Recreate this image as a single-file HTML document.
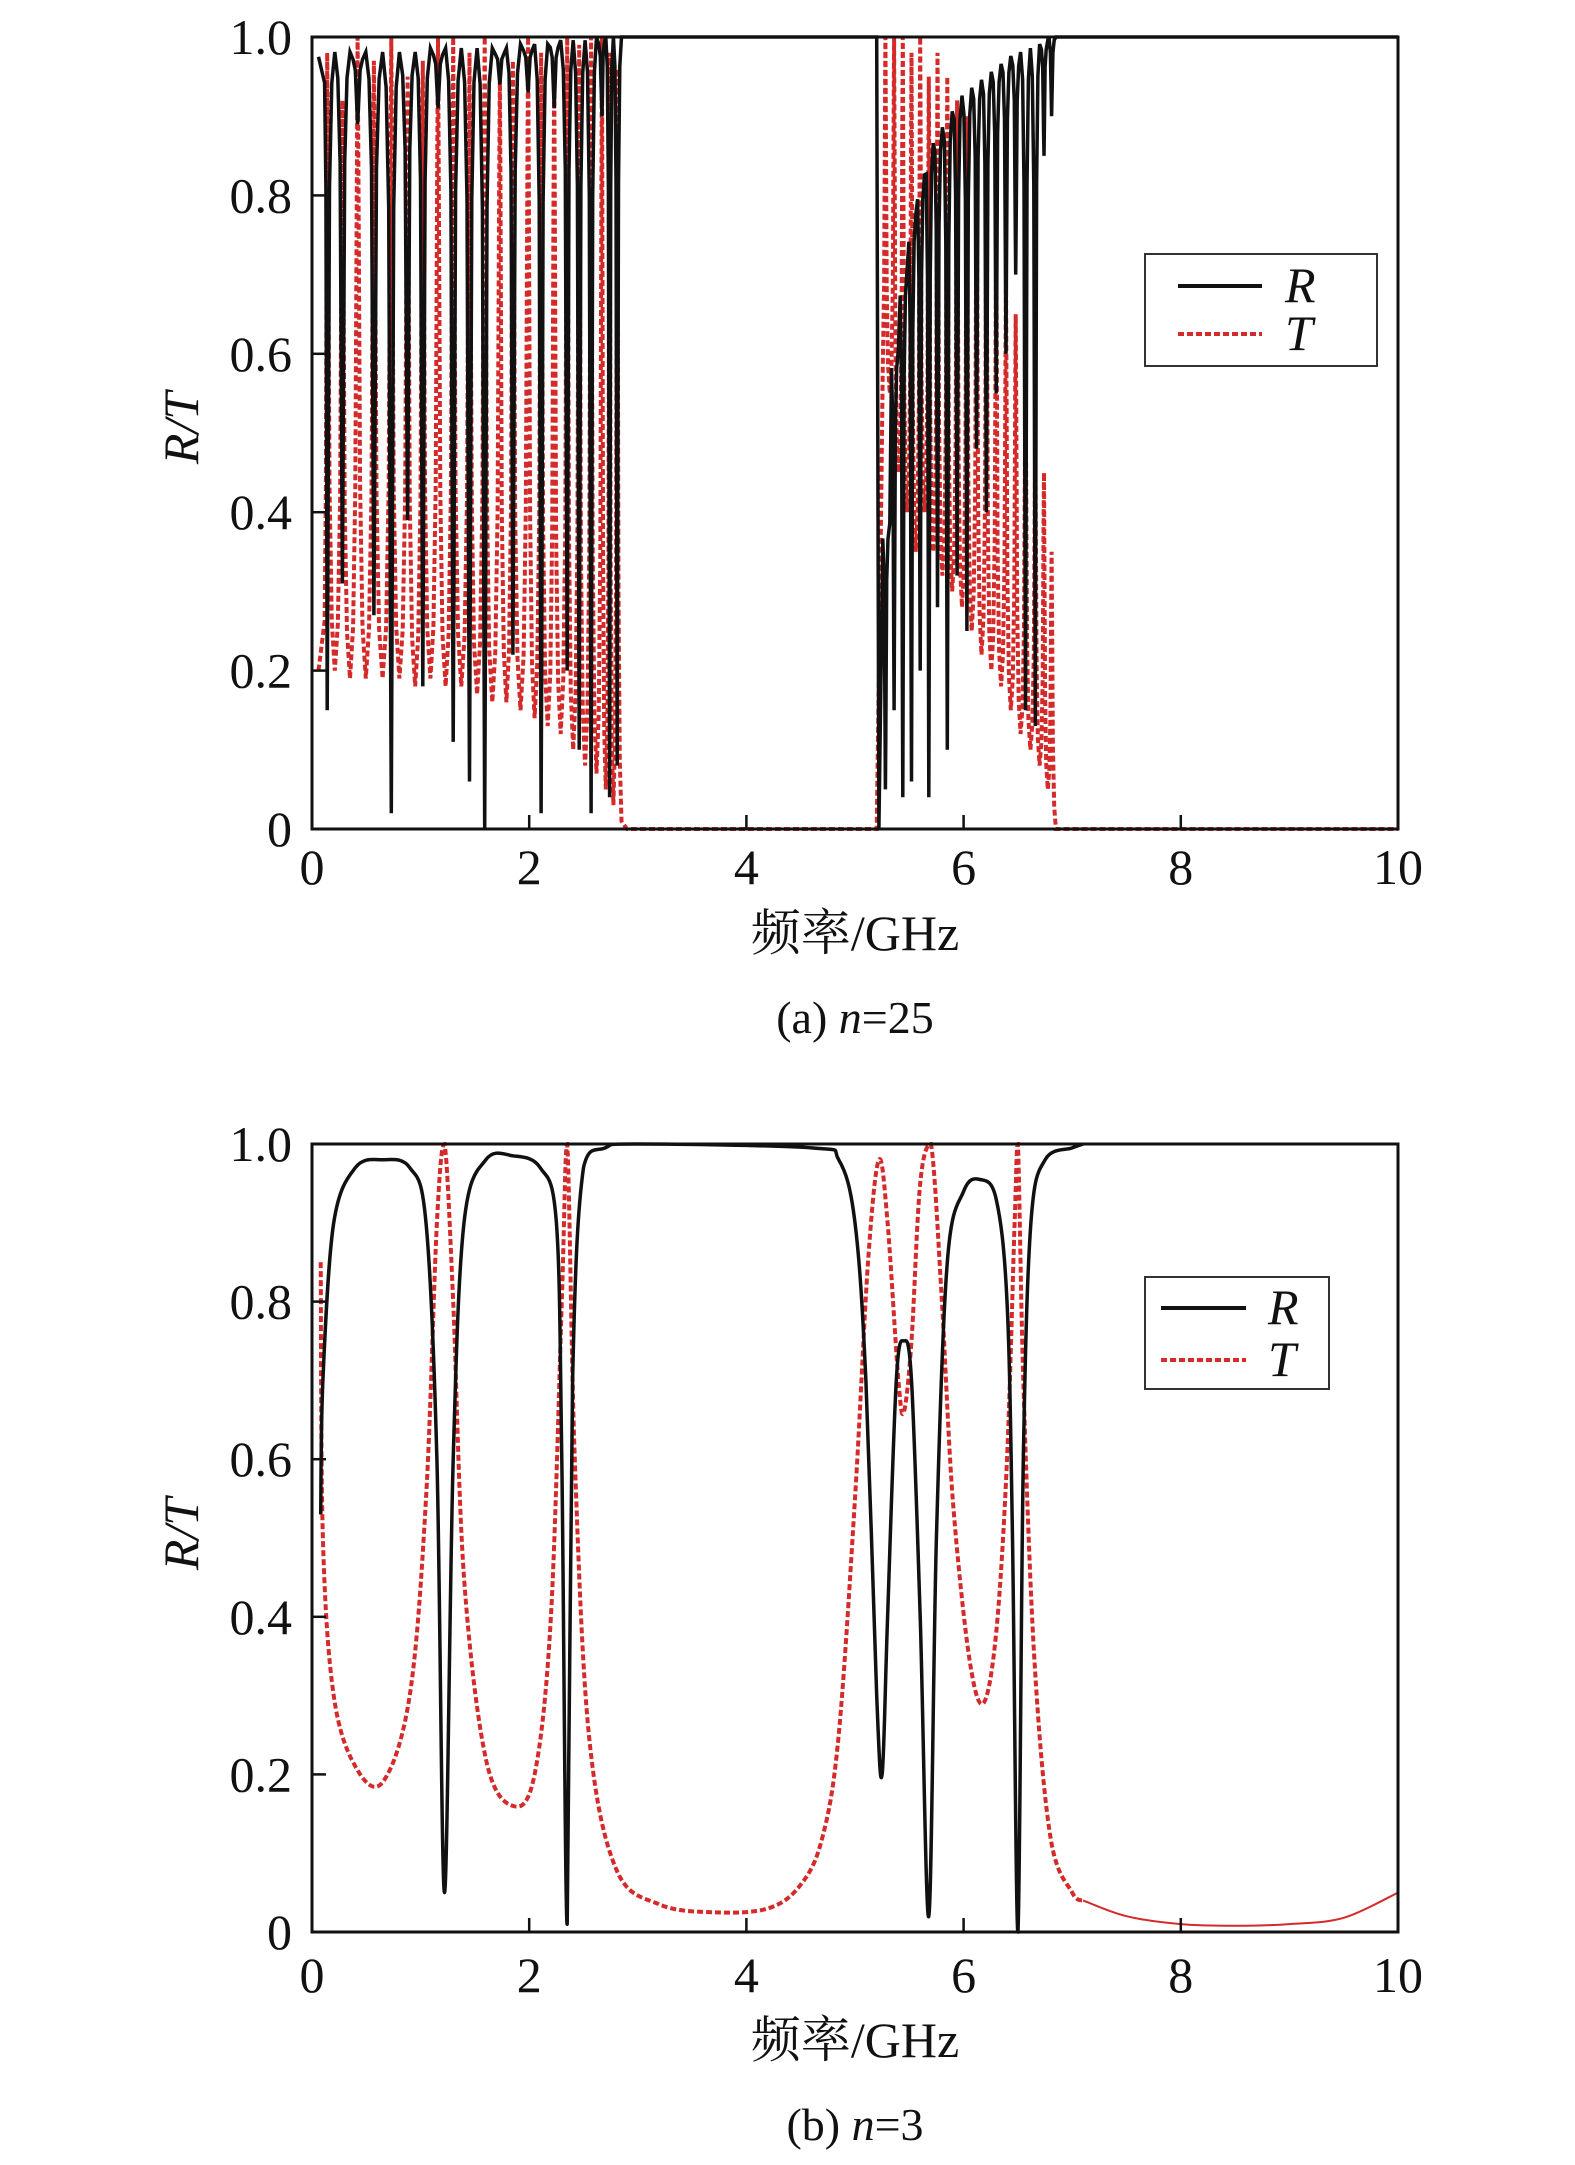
<!DOCTYPE html>
<html><head><meta charset="utf-8"><style>
html,body{margin:0;padding:0;background:#fff}
svg{display:block}
text{font-family:"Liberation Serif","Noto Serif CJK SC",serif;fill:#111}
</style></head><body>
<svg id="svg" width="1575" height="2165" viewBox="0 0 1575 2165" xmlns="http://www.w3.org/2000/svg">
<g id="pa"></g>
<g id="pb"></g>
</svg>
<script>
// ---- chart (a) n=25 data ----
const xTicks = [0, 2, 4, 6, 8, 10];
const yTicks = [0, 0.2, 0.4, 0.6, 0.8, 1.0];
const yTickLabels = ["0", "0.2", "0.4", "0.6", "0.8", "1.0"];
const b1Freq = [0.14,0.28,0.42,0.57,0.73,0.88,1.02,1.16,1.30,1.45,1.59,1.73,1.85,1.99,2.11,2.23,2.35,2.46,2.57,2.67,2.74,2.81];
const b1RMin = [0.15,0.31,0.89,0.27,0.02,0.39,0.18,0.91,0.11,0.06,0.0,0.94,0.22,0.93,0.02,0.91,0.2,0.1,0.02,0.9,0.04,0.08];
const b1RTop = [0.975,0.975,0.975,0.975,0.975,0.975,0.98,0.98,0.98,0.98,0.98,0.98,0.985,0.985,0.985,0.99,0.99,0.99,0.995,0.995,1.0,1.0];
const b1TPeak = [0.98,0.92,1.0,0.97,1.0,0.95,0.97,1.0,1.0,0.98,1.0,0.96,0.97,1.0,0.98,0.96,1.0,0.99,1.0,1.0,0.98,0.96];
const b1TLow = [0.2,0.19,0.19,0.19,0.19,0.18,0.19,0.18,0.18,0.17,0.16,0.16,0.15,0.14,0.13,0.12,0.1,0.08,0.07,0.05,0.03,0.01];
const b2Freq = [5.28,5.36,5.44,5.52,5.60,5.68,5.76,5.85,5.94,6.03,6.12,6.21,6.30,6.39,6.48,6.57,6.66,6.74,6.81];
const b2RTop = [0.38,0.6,0.7,0.77,0.82,0.86,0.88,0.9,0.92,0.93,0.94,0.95,0.96,0.97,0.975,0.98,0.985,0.99,1.0];
const b2RMin = [0.05,0.15,0.04,0.06,0.2,0.04,0.28,0.1,0.32,0.25,0.48,0.4,0.55,0.6,0.7,0.15,0.13,0.85,0.9];
const b2TPeak = [1,1,1,0.98,1,0.95,0.98,0.95,0.92,0.9,0.85,0.8,0.75,0.7,0.65,0.58,0.5,0.45,0.35];
const b2TLow = [0.55,0.45,0.4,0.35,0.4,0.35,0.32,0.3,0.28,0.25,0.22,0.2,0.18,0.15,0.12,0.1,0.08,0.05,0.0];
// ---- chart (b) n=3 data ----
const bRFreq = [0.08,0.1,0.2,0.4,0.65,0.9,1.05,1.15,1.22,1.3,1.4,1.6,1.85,2.1,2.25,2.3,2.35,2.4,2.5,2.7,3.0,4.6,4.85,5.0,5.1,5.2,5.25,5.3,5.38,5.45,5.52,5.6,5.68,5.75,5.85,6.0,6.15,6.3,6.4,6.45,6.5,6.55,6.62,6.75,7.0,7.1];
const bRVal  = [0.53,0.7,0.9,0.97,0.98,0.97,0.9,0.6,0.05,0.6,0.9,0.98,0.985,0.97,0.9,0.6,0.01,0.7,0.97,0.995,1.0,0.995,0.98,0.9,0.7,0.3,0.2,0.4,0.7,0.75,0.7,0.4,0.02,0.5,0.85,0.94,0.955,0.93,0.8,0.5,0.0,0.6,0.9,0.98,0.995,1.0];
const bTFreq = [0.08,0.1,0.2,0.4,0.65,0.9,1.05,1.15,1.22,1.3,1.4,1.6,1.85,2.05,2.2,2.3,2.35,2.42,2.55,2.8,3.2,3.7,4.2,4.5,4.7,4.85,5.0,5.12,5.22,5.3,5.4,5.45,5.52,5.6,5.7,5.8,5.9,6.05,6.18,6.3,6.4,6.47,6.5,6.55,6.65,6.8,7.0,7.1];
const bTVal  = [0.85,0.5,0.3,0.21,0.19,0.3,0.55,0.9,1.0,0.8,0.45,0.22,0.16,0.2,0.4,0.8,1.0,0.6,0.25,0.08,0.035,0.025,0.03,0.06,0.12,0.25,0.55,0.85,0.98,0.9,0.7,0.66,0.75,0.95,1.0,0.8,0.55,0.35,0.29,0.38,0.6,0.9,1.0,0.7,0.35,0.12,0.05,0.04];
const bTailFreq = [7.1,7.5,8.0,8.5,9.0,9.5,10.0];
const bTailVal = [0.04,0.02,0.01,0.008,0.01,0.018,0.05];

const NS = "http://www.w3.org/2000/svg";
function mk(parent, tag, attrs, txt){
  const e = document.createElementNS(NS, tag);
  for (const k in attrs) e.setAttribute(k, attrs[k]);
  if (txt !== undefined) e.textContent = txt;
  parent.appendChild(e);
  return e;
}
const X0 = 312, X1 = 1398;
function makeAxes(top, bot){
  return { x: f => X0 + (f/10)*(X1-X0), y: v => bot - v*(bot-top) };
}
function ptsStr(ax, fs, vs){ return fs.map((f,i)=>ax.x(f).toFixed(1)+","+ax.y(vs[i]).toFixed(1)).join(" "); }
function smoothPath(ax, fs, vs, top, bot){
  const P = fs.map((f,i)=>[ax.x(f), ax.y(vs[i])]);
  let d = "M"+P[0][0].toFixed(1)+","+P[0][1].toFixed(1);
  const cl = y => Math.max(top, Math.min(bot, y));
  for (let i=0;i<P.length-1;i++){
    const p0 = P[Math.max(0,i-1)], p1 = P[i], p2 = P[i+1], p3 = P[Math.min(P.length-1,i+2)];
    const c1 = [p1[0]+(p2[0]-p0[0])/6, cl(p1[1]+(p2[1]-p0[1])/6)];
    const c2 = [p2[0]-(p3[0]-p1[0])/6, cl(p2[1]-(p3[1]-p1[1])/6)];
    d += " C"+c1[0].toFixed(1)+","+c1[1].toFixed(1)+" "+c2[0].toFixed(1)+","+c2[1].toFixed(1)+" "+p2[0].toFixed(1)+","+p2[1].toFixed(1);
  }
  return d;
}

function drawFrame(g, ax, top, bot, labelY, xlabY, capY, titleY, cap1, cap2){
  const fr = mk(g, "rect", {x:X0, y:top, width:X1-X0, height:bot-top, fill:"none", stroke:"#111", "stroke-width":3});
  
  
  xTicks.forEach(t => {
    const l = mk(g, "line", {x1:ax.x(t), x2:ax.x(t), y1:bot, y2:bot-14, stroke:"#111", "stroke-width":2.5});
    
    
    const tx = mk(g, "text", {x:ax.x(t), y:labelY, "font-size":50, "text-anchor":"middle"}, String(t));
    
    
  });
  yTicks.forEach((t,i) => {
    const l = mk(g, "line", {x1:X0, x2:X0+14, y1:ax.y(t), y2:ax.y(t), stroke:"#111", "stroke-width":2.5});
    
    
    const tx = mk(g, "text", {x:292, y:ax.y(t)+17, "font-size":50, "text-anchor":"end"}, yTickLabels[i]);
    
    
  });
  const xl = mk(g, "text", {x:855, y:xlabY, "font-size":50, "text-anchor":"middle"}, "频率/GHz");
  
  
  const yl = mk(g, "text", {transform:`translate(198,${titleY}) rotate(-90)`, "font-size":50, "text-anchor":"middle", "font-style":"italic"}, "R/T");
  
  
  const c = mk(g, "text", {x:855, y:capY, "font-size":46, "text-anchor":"middle"});
  
  
  mk(c, "tspan", {}, cap1);
  mk(c, "tspan", {"font-style":"italic"}, "n");
  mk(c, "tspan", {}, cap2);
}
function drawLegend(g, bx, by, bw, bh, lx1, lx2, tx, y1, y2){
  const r = mk(g, "rect", {x:bx, y:by, width:bw, height:bh, fill:"#fff", stroke:"#333", "stroke-width":2});
  
  
  const a = mk(g, "line", {x1:lx1, x2:lx2, y1:y1, y2:y1, stroke:"#111", "stroke-width":4});
  
  
  const b = mk(g, "line", {x1:lx1, x2:lx2, y1:y2, y2:y2, stroke:"#d42a2a", "stroke-width":4, "stroke-dasharray":"6 3"});
  
  
  const t1 = mk(g, "text", {x:tx, y:y1+16, "font-size":50, "font-style":"italic"}, "R");
  
  
  const t2 = mk(g, "text", {x:tx, y:y2+16, "font-size":50, "font-style":"italic"}, "T");
  
  
}

// ---- chart (a) ----
(function(){
  const g = document.getElementById("pa");
  const top = 37, bot = 829;
  const ax = makeAxes(top, bot);
  const rf = [0.06], rv = [0.975], tf = [0.06], tv = [0.2];
  function addBand(F, RT, RM, TP, TL){
    F.forEach((f,i)=>{
      const pf = i>0 ? F[i-1] : f-0.08;
      const nf = i+1<F.length ? F[i+1] : f+0.08;
      const hl = (f-pf)/2, hr = (nf-f)/2;
      const d = RT[i]-RM[i];
      rf.push(f-hl*0.6); rv.push(RT[i]-d*0.04);
      rf.push(f-hl*0.3); rv.push(RT[i]-d*0.2);
      rf.push(f-hl*0.08); rv.push(RT[i]-d*0.8);
      rf.push(f); rv.push(RM[i]);
      rf.push(f+hr*0.08); rv.push(RT[i]-d*0.8);
      rf.push(f+hr*0.3); rv.push(RT[i]-d*0.2);
      rf.push(f+hr*0.6); rv.push(RT[i]-d*0.04);
      rf.push(f+hr); rv.push(Math.min(1, RT[i]+0.006));
      const tl = i>0 ? TL[i-1] : TL[i];
      const e = TP[i]-tl, e2 = TP[i]-TL[i];
      tf.push(f-hl*0.6); tv.push(tl+e*0.08);
      tf.push(f-hl*0.3); tv.push(tl+e*0.3);
      tf.push(f-hl*0.1); tv.push(tl+e*0.8);
      tf.push(f); tv.push(TP[i]);
      tf.push(f+hr*0.1); tv.push(TL[i]+e2*0.8);
      tf.push(f+hr*0.3); tv.push(TL[i]+e2*0.3);
      tf.push(f+hr*0.6); tv.push(TL[i]+e2*0.08);
      tf.push(f+hr); tv.push(TL[i]);
    });
  }
  addBand(b1Freq, b1RTop, b1RMin, b1TPeak, b1TLow);
  rf.push(2.9, 5.2, 5.22); rv.push(1, 1, 0);
  tf.push(2.9, 5.2, 5.24); tv.push(0, 0, 0.4);
  addBand(b2Freq, b2RTop, b2RMin, b2TPeak, b2TLow);
  rf.push(6.88, 10); rv.push(1, 1);
  tf.push(6.88, 10); tv.push(0, 0);
  const t = mk(g, "polyline", {points:ptsStr(ax, tf, tv), fill:"none", stroke:"#d42a2a", "stroke-width":4, "stroke-dasharray":"6 3"});
  
  
  const r = mk(g, "polyline", {points:ptsStr(ax, rf, rv), fill:"none", stroke:"#111", "stroke-width":3.5});
  
  
  drawFrame(g, ax, top, bot, 884, 950, 1033, 428, "(a) ", "=25");
  drawLegend(g, 1145, 254, 232, 112, 1178, 1262, 1285, 286, 334);
})();

// ---- chart (b) ----
(function(){
  const g = document.getElementById("pb");
  const top = 1144, bot = 1932;
  const ax = makeAxes(top, bot);
  const tail = mk(g, "path", {d:smoothPath(ax, bTailFreq, bTailVal, top, bot), fill:"none", stroke:"#d42a2a", "stroke-width":2});
  
  
  const t = mk(g, "path", {d:smoothPath(ax, bTFreq, bTVal, top, bot), fill:"none", stroke:"#d42a2a", "stroke-width":4, "stroke-dasharray":"6 3"});
  
  
  const r = mk(g, "path", {d:smoothPath(ax, bRFreq, bRVal, top, bot), fill:"none", stroke:"#111", "stroke-width":3.5});
  
  
  drawFrame(g, ax, top, bot, 1992, 2057, 2140, 1534, "(b) ", "=3");
  drawLegend(g, 1145, 1277, 184, 112, 1161, 1246, 1268, 1308, 1360);
})();
</script>
</body></html>
